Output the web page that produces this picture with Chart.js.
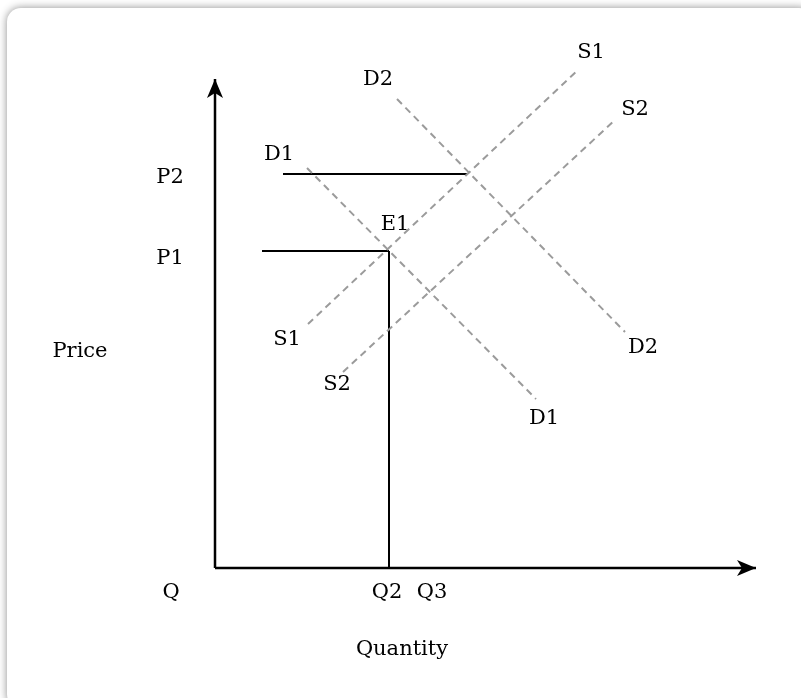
<!DOCTYPE html>
<html lang="en">
<head>
    <meta charset="UTF-8">
    <title>Supply and demand</title>
    <script src="https://cdn.jsdelivr.net/npm/chart.js@4.4.0/dist/chart.umd.min.js"></script>
</head>
<style>
    body {
        margin: 0;
        background: #fff;
        overflow: hidden;
    }
    .tarjeta {
        position: absolute;
        left: 7px;
        top: 8px;
        width: 806px;
        height: 700px;
        background: #fff;
        border-radius: 14px;
        box-shadow: 0 0 9px rgba(0, 0, 0, 0.45);
    }
    .tarjeta canvas {
        position: absolute;
        left: 0;
        top: 0;
    }
</style>
<body>
    <div class="tarjeta">
        <canvas id="grafica" width="794" height="690"></canvas>
    </div>

    <script>
        // curves (x = quantity, y = price), one unit = 10 px
        const s1 = [[9.3, 24.4], [36.3, 49.8]];
        const s2 = [[12.8, 19.6], [40.0, 44.8]];
        const d1 = [[9.2, 40.0], [32.1, 16.9]];
        const d2 = [[18.2, 46.9], [41.0, 23.6]];

        // guide lines at the equilibrium
        const lineaP1 = [[4.7, 31.7], [17.4, 31.7]];
        const lineaP2 = [[6.8, 39.4], [25.2, 39.4]];
        const lineaQ2 = [[17.4, 0], [17.4, 31.7]];

        // axes
        const ejeY = [[0, 0], [0, 48.9]];
        const ejeX = [[0, 0], [54.1, 0]];

        // text labels
        const etiquetas = ["S1", "D2", "S2", "D1", "P2", "E1", "P1", "S1", "S2", "D1", "D2", "Price", "Q", "Q2", "Q3", "Quantity"];
        const etiquetasX = [37.6, 16.3, 42.0, 6.4, -4.5, 18.0, -4.5, 7.2, 12.2, 32.9, 42.8, -13.5, -4.4, 17.2, 21.7, 18.7];
        const etiquetasY = [51.5, 48.8, 45.8, 41.3, 39.0, 34.3, 30.9, 22.8, 18.3, 14.9, 22.0, 21.6, -2.5, -2.5, -2.5, -8.2];

        const puntos = (par) => par.map(([x, y]) => ({ x, y }));

        const discontinua = (datos) => ({
            data: puntos(datos),
            borderColor: "#9b9b9b",
            borderWidth: 2,
            borderDash: [7, 5],
            pointRadius: 0,
            showLine: true,
        });
        const solida = (datos, ancho) => ({
            data: puntos(datos),
            borderColor: "#000",
            borderWidth: ancho || 2,
            pointRadius: 0,
            showLine: true,
        });

        const flechas = {
            id: "flechas",
            afterDatasetsDraw(chart) {
                const ctx = chart.ctx;
                const sx = chart.scales.x;
                const sy = chart.scales.y;

                const punta = (x, y, ang) => {
                    ctx.save();
                    ctx.translate(sx.getPixelForValue(x), sy.getPixelForValue(y));
                    ctx.rotate(ang);
                    ctx.beginPath();
                    ctx.moveTo(0, 0);
                    ctx.lineTo(-19, -8);
                    ctx.lineTo(-14, 0);
                    ctx.lineTo(-19, 8);
                    ctx.closePath();
                    ctx.fillStyle = "#000";
                    ctx.fill();
                    ctx.restore();
                };
                punta(ejeY[1][0], ejeY[1][1], -Math.PI / 2);
                punta(ejeX[1][0], ejeX[1][1], 0);

                ctx.save();
                ctx.fillStyle = "#000";
                ctx.font = "21px 'DejaVu Serif'";
                ctx.textAlign = "center";
                ctx.textBaseline = "middle";
                etiquetas.forEach((t, i) => {
                    ctx.fillText(t, sx.getPixelForValue(etiquetasX[i]), sy.getPixelForValue(etiquetasY[i]));
                });
                ctx.restore();
            }
        };

        document.addEventListener("DOMContentLoaded", () => {
            const ctx = document.querySelector("#grafica").getContext("2d");
            new Chart(ctx, {
                type: "scatter",
                data: {
                    datasets: [
                        discontinua(s1),
                        discontinua(s2),
                        discontinua(d1),
                        discontinua(d2),
                        solida(lineaP1),
                        solida(lineaP2),
                        solida(lineaQ2),
                        solida(ejeY, 2.5),
                        solida(ejeX, 2.5),
                    ],
                },
                options: {
                    responsive: false,
                    animation: false,
                    layout: { padding: 0 },
                    plugins: {
                        legend: { display: false },
                        tooltip: { enabled: false },
                    },
                    scales: {
                        x: { type: "linear", display: false, min: -20.8, max: 58.6 },
                        y: { type: "linear", display: false, min: -13.0, max: 56.0 },
                    },
                },
                plugins: [flechas],
            });
        });
    </script>
</body>
</html>
